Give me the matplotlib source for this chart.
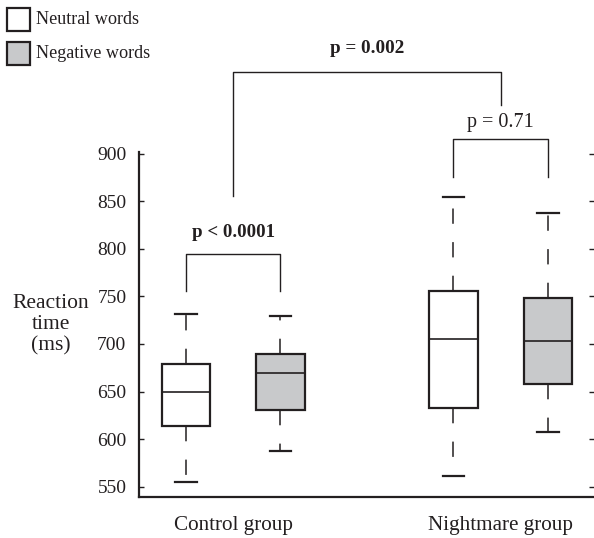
import matplotlib
matplotlib.use("Agg")
import matplotlib.pyplot as plt
from matplotlib.patches import Rectangle

plt.rcParams['font.family'] = ['Liberation Serif', 'DejaVu Serif']

# box statistics (ms)
groups = ["Control group", "Nightmare group"]
conditions = ["Neutral words", "Negative words"]
whislo = [555, 587, 561, 607]
q1 = [614, 631, 633, 658]
med = [649, 669, 705, 703]
q3 = [679, 689, 756, 748]
whishi = [732, 729, 855, 838]
positions = [1, 2, 3.83, 4.83]
fills = ["white", "#c8c9cb", "white", "#c8c9cb"]
yticks = [550, 600, 650, 700, 750, 800, 850, 900]
p_within = ["p < 0.0001", "p = 0.71"]
p_between = "p = 0.002"

ink = "#231f20"

fig = plt.figure(figsize=(5.94, 5.38), dpi=100)
ax = fig.add_axes([139 / 594, 41 / 538, 455 / 594, 345 / 538])

stats = []
for i in range(len(med)):
    stats.append({"whislo": whislo[i], "q1": q1[i], "med": med[i],
                  "q3": q3[i], "whishi": whishi[i], "fliers": []})

bp = ax.bxp(stats, positions=positions, widths=0.51, patch_artist=True,
            showfliers=False, capwidths=0.23,
            boxprops=dict(edgecolor=ink, linewidth=1.6),
            medianprops=dict(color=ink, linewidth=1.2),
            whiskerprops=dict(color=ink, linewidth=1.1, linestyle=(0, (10, 12))),
            capprops=dict(color=ink, linewidth=1.6))
for patch, c in zip(bp["boxes"], fills):
    patch.set_facecolor(c)

ax.set_xlim(0.503, 5.317)
ax.set_ylim(539, 902)
ax.set_yticks(yticks)
ax.set_xticks([])
ax.tick_params(axis="y", direction="in", length=3.5, width=1, color=ink,
               labelsize=14, labelcolor=ink, right=True, pad=9)
ax.spines["top"].set_visible(False)
ax.spines["right"].set_visible(False)
ax.spines["left"].set_linewidth(1.6)
ax.spines["bottom"].set_linewidth(1.6)
ax.spines["left"].set_color(ink)
ax.spines["bottom"].set_color(ink)

mid_c = (positions[0] + positions[1]) / 2
mid_n = (positions[2] + positions[3]) / 2
for gname, xm in zip(groups, [mid_c, mid_n]):
    ax.text(xm, 509, gname, ha="center", va="center", fontsize=15.2, color=ink)

ax.text(-0.43, 720, "Reaction\ntime\n(ms)", ha="center", va="center",
        fontsize=15.5, color=ink, linespacing=1.15)

# brackets
lk = dict(color=ink, linewidth=1.0, clip_on=False)
ax.plot([positions[0], positions[0], positions[1], positions[1]],
        [756, 795, 795, 756], **lk)
ax.text(mid_c, 817, p_within[0], ha="center", va="center", fontsize=13.6,
        fontweight="bold", color=ink)
ax.plot([positions[2], positions[2], positions[3], positions[3]],
        [876, 915.5, 915.5, 876], **lk)
ax.text(mid_n, 933, p_within[1], ha="center", va="center", fontsize=14.5,
        color=ink, clip_on=False)
ax.plot([mid_c, mid_c, mid_n, mid_n], [856, 986.6, 986.6, 951.5], **lk)
ax.text((mid_c + mid_n) / 2, 1010.5, p_between, ha="center", va="center",
        fontsize=13.8, fontweight="bold", color=ink)

# legend squares in the top-left corner
for j, (lab, c) in enumerate(zip(conditions, fills[:2])):
    y0 = 538 - 31 - 34 * j
    fig.patches.append(Rectangle((7 / 594, y0 / 538), 23 / 594, 23 / 538,
                                 transform=fig.transFigure, facecolor=c,
                                 edgecolor=ink, linewidth=1.6))
    fig.text(36 / 594, (y0 + 12) / 538, lab, ha="left", va="center",
             fontsize=13.1, color=ink)

fig.savefig("out.png", dpi=100)
